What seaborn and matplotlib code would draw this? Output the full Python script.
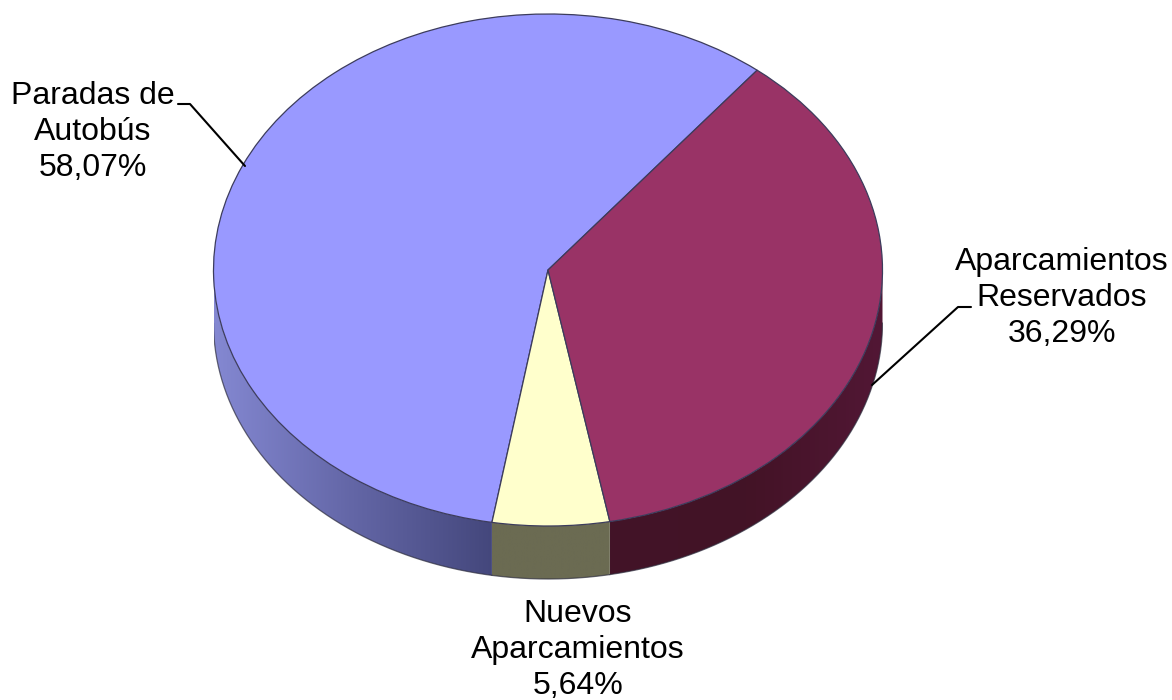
import numpy as np
import matplotlib
matplotlib.use('Agg')
import matplotlib.pyplot as plt
import seaborn as sns
from matplotlib.colors import LinearSegmentedColormap
from matplotlib.lines import Line2D
from matplotlib.patches import Polygon

categorias = ['Paradas de\nAutobús', 'Nuevos\nAparcamientos', 'Aparcamientos\nReservados']
valores = [58.07, 5.64, 36.29]
etiquetas = ['58,07%', '5,64%', '36,29%']
colores = ['#9999ff', '#ffffcc', '#993366']
lados = [['#8488d2', '#6366a6', '#44477c'],
         ['#6b6b52', '#6b6b52', '#6b6b52'],
         ['#421428', '#431326', '#521735']]

W, H = 1172, 700
CX, CY, RX, RY = 548, 270, 334.5, 256
PROF = 53 / RY
INICIO = 51.3

sns.set_theme(style='white')
plt.rcParams['font.family'] = ['Liberation Sans', 'DejaVu Sans']

fig = plt.figure(figsize=(W / 100, H / 100), dpi=100, facecolor='white')
# el eje incluye la pared lateral por debajo de la elipse
ax = fig.add_axes([(CX - RX) / W, 1 - (CY + RY + 53 + 2) / H, 2 * RX / W, (2 * RY + 53 + 2) / H])
YMIN = -1 - (53 + 2) / RY

ax.pie(valores, colors=sns.color_palette(colores), startangle=INICIO, radius=1,
       wedgeprops={'edgecolor': '#3c3c5c', 'linewidth': 0.9, 'zorder': 3})

# pared lateral: tramo inferior de la elipse, con degradado horizontal
angulos = INICIO + np.cumsum([0] + valores) * 3.6
for i in range(3):
    a0, a1 = max(angulos[i], 180), min(angulos[i + 1], 360)
    t = np.radians(np.linspace(a0, a1, 150))
    x, y = np.cos(t), np.sin(t)
    borde = np.column_stack([np.r_[x, x[::-1]], np.r_[y, y[::-1] - PROF]])
    cmap = LinearSegmentedColormap.from_list(f'lado{i}', lados[i])
    img = ax.imshow(np.linspace(0, 1, 256).reshape(1, -1), cmap=cmap, aspect='auto',
                    extent=[x.min(), x.max(), YMIN, 0], zorder=1)
    img.set_clip_path(Polygon(borde, closed=True, transform=ax.transData))
    ax.plot(x, y - PROF, color='#2e2e3e', lw=0.9, alpha=0.7, zorder=2)
ax.set_xlim(-1, 1)
ax.set_ylim(YMIN, 1)
ax.set_aspect('auto')
for sp in ax.spines.values():
    sp.set_visible(False)
ax.patch.set_visible(False)


def texto(px, py, s):
    fig.text(px / W, 1 - py / H, s, ha='center', va='center', fontsize=23,
             color='black', linespacing=1.28)


def guia(xs, ys):
    fig.add_artist(Line2D([v / W for v in xs], [1 - v / H for v in ys], color='black', lw=1.5))


texto(93, 132, categorias[0] + '\n' + etiquetas[0])
texto(578, 650, categorias[1] + '\n' + etiquetas[1])
texto(1062, 298, categorias[2] + '\n' + etiquetas[2])
guia([178, 190, 245], [104, 104, 166])
guia([971, 958, 872], [307, 307, 385])

fig.savefig('out.png', dpi=100)
